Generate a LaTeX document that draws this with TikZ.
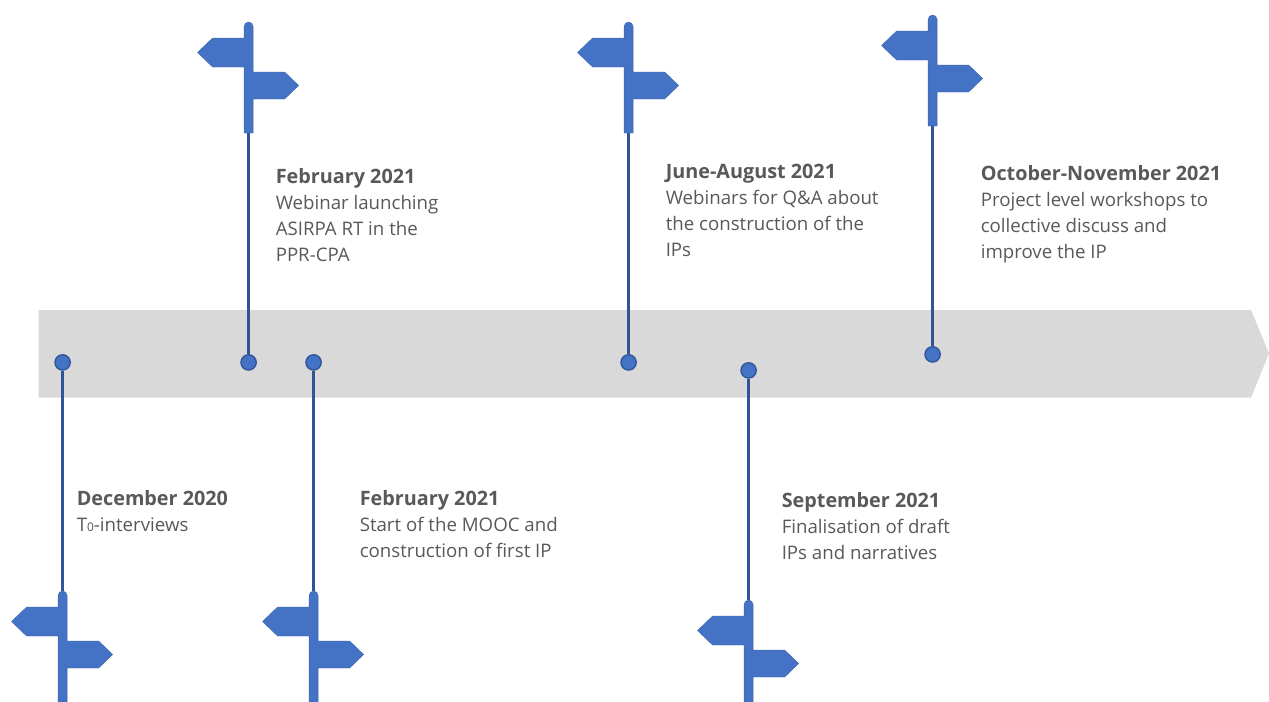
\documentclass[tikz,border=0pt]{standalone}
\usepackage{fontspec}
\setmainfont{Open Sans}
\definecolor{barfill}{HTML}{D9D9D9}
\definecolor{signfill}{HTML}{4472C4}
\definecolor{stemcol}{HTML}{2F5597}
\definecolor{txt}{HTML}{595959}
\newcommand{\ttl}[1]{{\fontsize{14.85pt}{19.5pt}\selectfont\bfseries #1}}
\tikzset{
  x=0.75pt,y=-0.75pt,
  timebar/.style={fill=barfill,draw=none},
  stem/.style={draw=stemcol,line width=2.2pt},
  dot/.style={circle,fill=signfill,draw=stemcol,line width=1pt,minimum size=11.5pt,inner sep=0pt},
  label/.style={anchor=north west,align=left,inner sep=0pt,text=txt,font=\fontsize{14pt}{19.5pt}\selectfont},
  signpost/.pic={
    \fill[signfill,draw=signfill!90!black,line width=0.3pt]
      (-4.5,4.5) arc[start angle=180,end angle=360,x radius=4.5,y radius=4.5] -- (4.5,50) -- (36,50) -- (50,63.5) -- (36,77) -- (4.5,77)
      -- (4.5,111) -- (-4.5,111) -- (-4.5,45) -- (-36,45) -- (-51,30.5) -- (-36,16) -- (-4.5,16) -- cycle;
    \coordinate (-top) at (0,0);
    \coordinate (-bottom) at (0,111);
  }
}
\begin{document}
\begin{tikzpicture}
\clip (0,0) rectangle (1269,701);
\path[fill=white] (0,0) rectangle (1269,701);
\path[timebar] (38.5,310) -- (1251,310) -- (1269,353.5) -- (1251,397.5) -- (38.5,397.5) -- cycle;

\pic (pa) at (62.6,591) {signpost};
\pic (pb) at (248.6,22) {signpost};
\pic (pc) at (313.6,591) {signpost};
\pic (pd) at (628.6,22) {signpost};
\pic (pe) at (748.6,600) {signpost};
\pic (pf) at (932.6,15) {signpost};

\node[dot] (da) at (62.6,362.4) {};
\node[dot] (db) at (248.6,362.4) {};
\node[dot] (dc) at (313.6,362.4) {};
\node[dot] (dd) at (628.6,362.4) {};
\node[dot] (de) at (748.6,370.4) {};
\node[dot] (df) at (932.6,354.4) {};

\draw[stem] (da) -- (pa-top);
\draw[stem] (db) -- (pb-bottom);
\draw[stem] (dc) -- (pc-top);
\draw[stem] (dd) -- (pd-bottom);
\draw[stem] (de) -- (pe-top);
\draw[stem] (df) -- (pf-bottom);

\node[label] (la) at (76.5,490.5) {\ttl{December 2020}\\T{\fontsize{9pt}{9pt}\selectfont 0}-interviews};
\node[label] (lb) at (275.5,168.5) {\ttl{February 2021}\\Webinar launching\\ASIRPA RT in the\\PPR-CPA};
\node[label] (lc) at (359.5,490.5) {\ttl{February 2021}\\Start of the MOOC and\\construction of first IP};
\node[label] (ld) at (665.5,163.5) {\ttl{June-August 2021}\\Webinars for Q\&A about\\the construction of the\\IPs};
\node[label] (le) at (781.5,492.5) {\ttl{September 2021}\\Finalisation of draft\\IPs and narratives};
\node[label] (lf) at (980.5,165.5) {\ttl{October-November 2021}\\Project level workshops to\\collective discuss and\\improve the IP};
\end{tikzpicture}
\end{document}
